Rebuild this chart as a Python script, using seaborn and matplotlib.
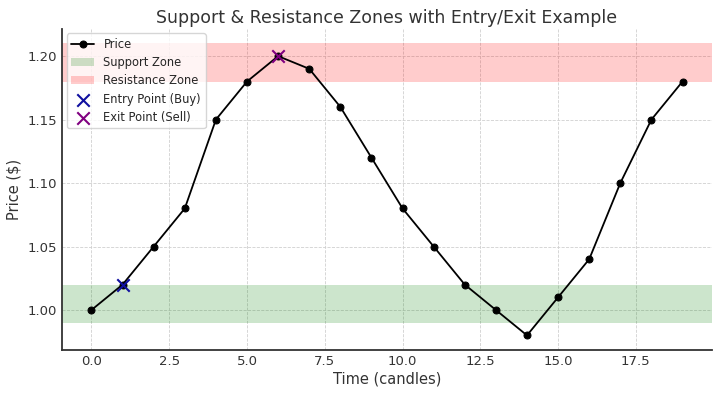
import numpy as np
import pandas as pd
import matplotlib
matplotlib.use("Agg")
import matplotlib.pyplot as plt
import seaborn as sns

time = list(range(20))
price = [1.00, 1.02, 1.05, 1.08, 1.15, 1.18, 1.20, 1.19, 1.16, 1.12,
         1.08, 1.05, 1.02, 1.00, 0.98, 1.01, 1.04, 1.10, 1.15, 1.18]
support_zone = [0.99, 1.02]
resistance_zone = [1.18, 1.21]
entry_x, entry_y = [1], [1.02]
exit_x, exit_y = [6], [1.20]

sns.set_style("white")
plt.rcParams['font.family'] = ['DejaVu Sans']

fig = plt.figure(figsize=(7.2, 3.95), dpi=100)
ax = fig.add_axes([0.086, 0.114, 0.903, 0.813])

df = pd.DataFrame({"time": time, "price": price})
sns.lineplot(data=df, x="time", y="price", ax=ax, color="black", marker="o",
             markersize=5, linewidth=1.3, markeredgecolor="black", label="Price")
ax.axhspan(support_zone[0], support_zone[1], color="green", alpha=0.2, lw=0, label="Support Zone")
ax.axhspan(resistance_zone[0], resistance_zone[1], color="red", alpha=0.2, lw=0, label="Resistance Zone")
sns.scatterplot(x=entry_x, y=entry_y, ax=ax, marker="x", s=80, color="#1010a0",
                linewidth=1.5, label="Entry Point (Buy)", zorder=5)
sns.scatterplot(x=exit_x, y=exit_y, ax=ax, marker="x", s=80, color="purple",
                linewidth=1.5, label="Exit Point (Sell)", zorder=5)

ax.set_xlim(-0.95, 19.95)
ax.set_ylim(0.9685, 1.2215)
ax.set_xticks([0, 2.5, 5, 7.5, 10, 12.5, 15, 17.5])
ax.set_xticklabels(["0.0", "2.5", "5.0", "7.5", "10.0", "12.5", "15.0", "17.5"])
ax.set_yticks([1.00, 1.05, 1.10, 1.15, 1.20])
ax.set_yticklabels(["1.00", "1.05", "1.10", "1.15", "1.20"])
ax.tick_params(direction="in", labelsize=9.5, colors="#333333", length=4)
ax.grid(True, linestyle="--", color="#d0d0d0", linewidth=0.6)
for s in ["top", "right"]:
    ax.spines[s].set_visible(False)
for s in ["left", "bottom"]:
    ax.spines[s].set_color("#333333")
    ax.spines[s].set_linewidth(1.3)

ax.set_title("Support & Resistance Zones with Entry/Exit Example", fontsize=12.5,
             color="#333333", pad=4)
ax.set_xlabel("Time (candles)", fontsize=10.5, color="#333333", labelpad=3)
ax.set_ylabel("Price ($)", fontsize=10.5, color="#333333")
ax.legend(loc="upper left", fontsize=8.3, frameon=True, borderaxespad=0.4,
          labelspacing=0.45)

fig.savefig("out.png", dpi=100)
